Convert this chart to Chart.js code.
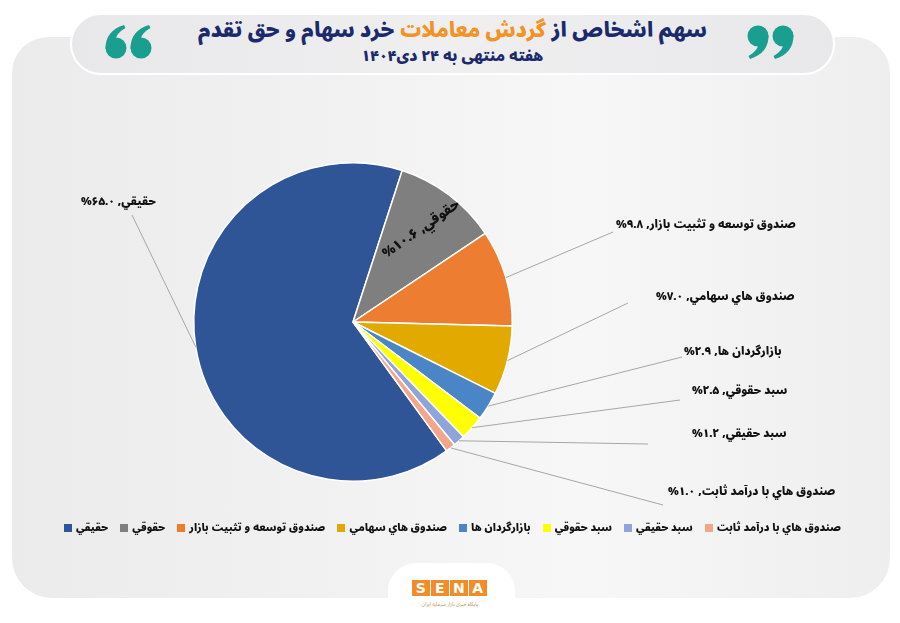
<!DOCTYPE html>
<html lang="fa">
<head>
<meta charset="utf-8">
<script src="https://cdn.jsdelivr.net/npm/chart.js@4.4.1/dist/chart.umd.min.js"></script>
<style>
  html, body { margin:0; padding:0; width:900px; height:623px; overflow:hidden; background:#ffffff; }
  body { position:relative; font-family:"Noto Sans Arabic","DejaVu Sans",sans-serif; }
  #card { position:absolute; left:12px; top:37px; width:878px; height:561px; border-radius:36px 36px 40px 40px;
          background:linear-gradient(90deg,#ebebec 0%,#f1f1f1 35%,#f7f7f7 65%,#eeeeef 100%); }
  #pill { position:absolute; left:70px; top:13px; width:761px; height:58px; border-radius:31px;
          background:linear-gradient(90deg,#e8e8ea 0%,#efeff0 50%,#e8e8ea 100%); border:2px solid #ffffff; }
  .quote { position:absolute; top:25px; width:48px; height:34px; }
  #title { position:absolute; left:70px; width:765px; top:16px; text-align:center; direction:rtl;
           font-weight:900; font-size:20.5px; line-height:30px; color:#1b2a6b; white-space:nowrap; }
  #title .hl { color:#f39325; }
  #subtitle { position:absolute; left:70px; width:765px; top:46px; text-align:center; direction:rtl;
           font-weight:900; font-size:15px; line-height:20px; color:#1b2a6b; white-space:nowrap; }
  #chart { position:absolute; left:0; top:0; z-index:1; }
  #legend { position:absolute; left:0; width:905px; top:517px; display:flex; justify-content:center; align-items:center; z-index:2;
            font-weight:900; font-size:10.5px; color:#111; white-space:nowrap; }
  #legend .item { display:flex; align-items:center; margin:0 6px; }
  #legend .box { width:8px; height:8px; margin-right:4px; }
  #notch { position:absolute; left:388px; top:563px; width:127px; height:60px; background:#ffffff; border-radius:28px 28px 0 0; }
  #logo { position:absolute; left:412px; top:580px; display:flex; gap:1.5px; }
  #logo span { width:17.5px; height:16px; background:#f28c28; color:#fff; font-family:"DejaVu Sans",sans-serif; font-weight:bold;
               font-size:14px; line-height:16px; text-align:center; }
  #logosub { position:absolute; left:400px; width:100px; top:599px; text-align:center; direction:rtl; font-size:5px; color:#c9874a; }
</style>
</head>
<body>
<div id="card"></div>
<div id="pill"></div>
<svg class="quote" style="left:105px;" viewBox="0 0 48 34">
  <g fill="#1a9e8f">
    <circle cx="11" cy="23" r="10.5"/>
    <path d="M0.6,24 C0,12 7,3.5 19,0 L20.5,3 C13.5,7 10.5,11.5 10.5,16 Z"/>
    <circle cx="36" cy="23" r="10.5"/>
    <path d="M25.6,24 C25,12 32,3.5 44,0 L45.5,3 C38.5,7 35.5,11.5 35.5,16 Z"/>
  </g>
</svg>
<svg class="quote" style="left:746px;" viewBox="0 0 48 34">
  <g fill="#1a9e8f" transform="rotate(180 24 17)">
    <circle cx="11" cy="23" r="10.5"/>
    <path d="M0.6,24 C0,12 7,3.5 19,0 L20.5,3 C13.5,7 10.5,11.5 10.5,16 Z"/>
    <circle cx="36" cy="23" r="10.5"/>
    <path d="M25.6,24 C25,12 32,3.5 44,0 L45.5,3 C38.5,7 35.5,11.5 35.5,16 Z"/>
  </g>
</svg>
<div id="title">سهم اشخاص از <span class="hl">گردش معاملات</span> خرد سهام و حق تقدم</div>
<div id="subtitle">هفته منتهی به ۲۴ دی۱۴۰۴</div>
<canvas id="chart" width="900" height="623"></canvas>
<div id="legend"></div>
<div id="notch"></div>
<div id="logo"><span>S</span><span>E</span><span>N</span><span>A</span></div>
<div id="logosub">پایگاه خبری بازار سرمایه ایران</div>

<script>
// ---- data ----
const categories = ["حقيقي", "حقوقي", "صندوق توسعه و تثبيت بازار", "صندوق هاي سهامي", "بازارگردان ها", "سبد حقوقي", "سبد حقيقي", "صندوق هاي با درآمد ثابت"];
const shares = [65.0, 10.6, 9.8, 7.0, 2.9, 2.5, 1.2, 1.0];
const sliceColors = ["#2f5597", "#7f7f7f", "#ed7d31", "#e2aa00", "#4a86c5", "#ffff00", "#8fa5d9", "#f3a68a"];

// ---- label layout (text anchor + leader line end), separate from data ----
const labelLayout = [
  { side: "left",  tx: 156, ty: 203, lx: 132, ly: 215 },
  { side: "inside", rf: 0.72, rot: -35 },
  { side: "right", tx: 616, ty: 226, lx: 613, ly: 232 },
  { side: "right", tx: 656, ty: 298, lx: 628, ly: 303 },
  { side: "right", tx: 684, ty: 353, lx: 682, ly: 357 },
  { side: "right", tx: 692, ty: 392, lx: 680, ly: 400 },
  { side: "right", tx: 692, ty: 435, lx: 648, ly: 444 },
  { side: "right", tx: 668, ty: 493, lx: 663, ly: 505 }
];

const faDigits = "۰۱۲۳۴۵۶۷۸۹";
function toFa(s) { return String(s).replace(/[0-9]/g, d => faDigits[+d]); }
function labelText(i) { return categories[i] + ", " + toFa(shares[i].toFixed(1)) + "%"; }

const FONT = '"Noto Sans Arabic","DejaVu Sans",sans-serif';

const labelPlugin = {
  id: "pieLabels",
  afterDatasetsDraw(chart) {
    const ctx = chart.ctx;
    const meta = chart.getDatasetMeta(0);
    meta.data.forEach((arc, i) => {
      const p = arc.getProps(["x", "y", "startAngle", "endAngle", "outerRadius"], true);
      const mid = (p.startAngle + p.endAngle) / 2;
      const L = labelLayout[i];
      ctx.save();
      ctx.font = "900 11.3px " + FONT;
      ctx.fillStyle = "#111111";
      ctx.direction = "rtl";
      ctx.textBaseline = "middle";
      if (L.side === "inside") {
        ctx.font = "900 13.5px " + FONT;
        const r = p.outerRadius * L.rf;
        ctx.translate(p.x + Math.cos(mid) * r, p.y + Math.sin(mid) * r);
        ctx.rotate(L.rot * Math.PI / 180);
        ctx.textAlign = "center";
        ctx.fillText(labelText(i), 0, 0);
      } else {
        const ex = p.x + Math.cos(mid) * p.outerRadius;
        const ey = p.y + Math.sin(mid) * p.outerRadius;
        ctx.strokeStyle = "#a6a6a6";
        ctx.lineWidth = 1;
        ctx.beginPath();
        ctx.moveTo(ex, ey);
        ctx.lineTo(L.lx, L.ly);
        ctx.stroke();
        ctx.textAlign = L.side === "right" ? "left" : "right";
        ctx.fillText(labelText(i), L.tx, L.ty);
      }
      ctx.restore();
    });
  }
};

new Chart(document.getElementById("chart"), {
  type: "pie",
  data: {
    labels: categories,
    datasets: [{
      data: shares,
      backgroundColor: sliceColors,
      borderColor: "#ffffff",
      borderWidth: 1.5
    }]
  },
  options: {
    responsive: false,
    animation: false,
    rotation: 144,
    layout: { padding: { left: 33, right: 227, top: 162, bottom: 141 } },
    plugins: {
      legend: { display: false },
      tooltip: { enabled: false },
      title: { display: false }
    }
  },
  plugins: [labelPlugin]
});

// HTML legend built from the data arrays
const lg = document.getElementById("legend");
categories.forEach((c, i) => {
  const it = document.createElement("div");
  it.className = "item";
  const b = document.createElement("span");
  b.className = "box";
  b.style.background = sliceColors[i];
  const t = document.createElement("span");
  t.dir = "rtl";
  t.textContent = c;
  it.appendChild(b);
  it.appendChild(t);
  lg.appendChild(it);
});
</script>
</body>
</html>
